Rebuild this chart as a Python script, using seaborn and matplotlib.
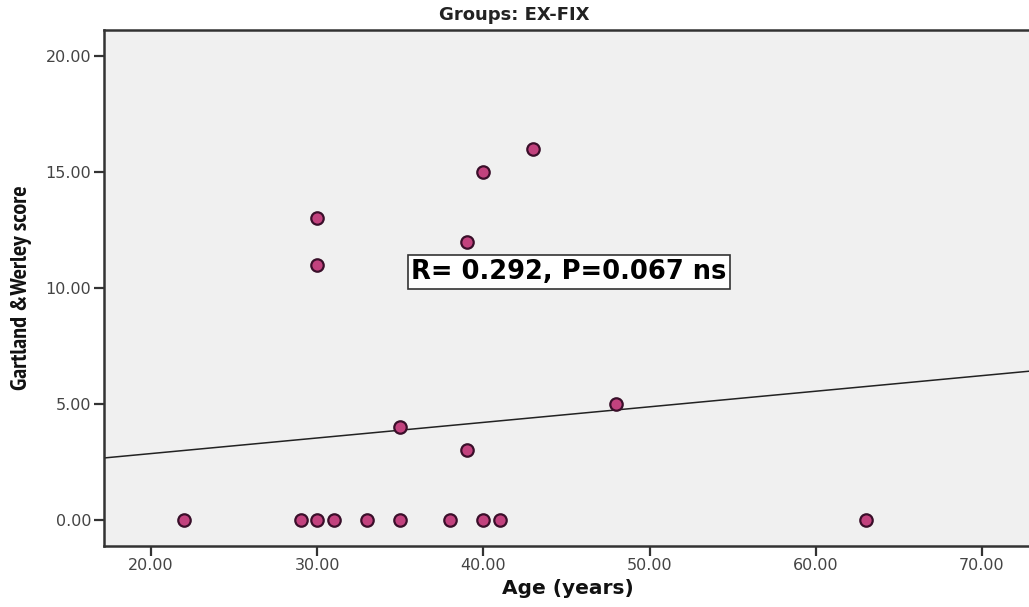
"""
Scatter of Gartland & Werley score against age for the EX-FIX group.
"""

import matplotlib
matplotlib.use('Agg')
import matplotlib.pyplot as plt
import seaborn as sns
import numpy as np
import pandas as pd

# Data
ages = [22, 29, 30, 31, 33, 35, 38, 40, 41, 63, 30, 30, 35, 39, 39, 40, 43, 48]
scores = [0, 0, 0, 0, 0, 0, 0, 0, 0, 0, 13, 11, 4, 3, 12, 15, 16, 5]

# Fit line as drawn in the source (intercept, slope)
fit_intercept = 1.52
fit_slope = 0.0672

x_ticks = [20, 30, 40, 50, 60, 70]
y_ticks = [0, 5, 10, 15, 20]
annotation = 'R= 0.292, P=0.067 ns'

sns.set_theme(style='white')
plt.rcParams['font.family'] = ['DejaVu Sans']
narrow = ['PT Sans Narrow', 'DejaVu Sans']

df = pd.DataFrame({'age': ages, 'score': scores})

fig = plt.figure(figsize=(10.29, 6.07), dpi=100)
ax = fig.add_axes([0.101, 0.1005, 0.901, 0.85])
ax.set_facecolor('#f0f0f0')

xlim = (17.17, 72.95)
ylim = (-1.12, 21.12)

# Regression line across the full x range
line_x = np.array(xlim)
line_df = pd.DataFrame({'age': line_x, 'score': fit_intercept + fit_slope * line_x})
sns.lineplot(data=line_df, x='age', y='score', ax=ax, color='#222222', linewidth=1.1)

sns.scatterplot(data=df, x='age', y='score', ax=ax, s=80, color='#c2427e',
                edgecolor='#3a0f2a', linewidth=1.6, zorder=3)

ax.set_xlim(*xlim)
ax.set_ylim(*ylim)
ax.set_xticks(x_ticks)
ax.set_yticks(y_ticks)
ax.set_xticklabels([f'{v:.2f}' for v in x_ticks])
ax.set_yticklabels([f'{v:.2f}' for v in y_ticks])
ax.tick_params(axis='both', direction='out', length=7, width=1.6, color='#333333',
               labelsize=11.5, labelcolor='#444444', pad=2, bottom=True, left=True)

for side in ['left', 'bottom', 'top']:
    ax.spines[side].set_color('#333333')
    ax.spines[side].set_linewidth(1.8)
ax.spines['right'].set_visible(False)

ax.set_xlabel('Age (years)', fontsize=14.5, fontweight='bold', color='#111111', labelpad=4)
ax.set_ylabel('Gartland &Werley score', fontsize=17.5, fontweight='bold', color='#111111',
              family=narrow)
ax.yaxis.set_label_coords(-0.078, 0.5)

ax.text(45.15, 10.69, annotation, ha='center', va='center', fontsize=18.5, fontweight='bold',
        color='black', bbox=dict(facecolor='white', edgecolor='#333333', linewidth=1.2, pad=2.5))

fig.text(0.5, 0.975, 'Groups: EX-FIX', ha='center', va='center', fontsize=13,
         fontweight='bold', color='#222222')

plt.savefig('out.png', dpi=100)
plt.close()
